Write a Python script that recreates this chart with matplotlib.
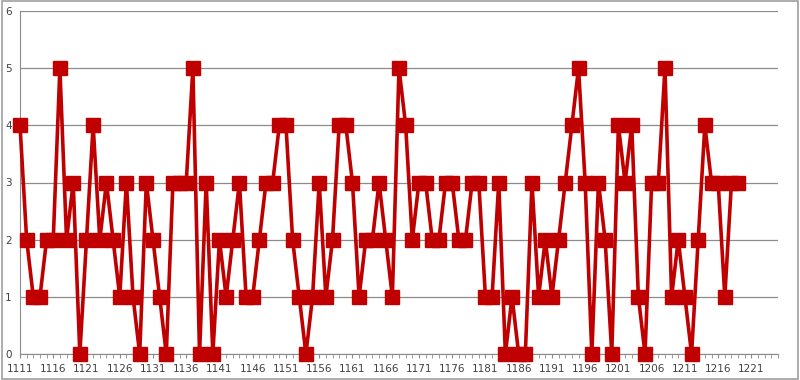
import matplotlib
matplotlib.use('Agg')
import matplotlib.pyplot as plt
from matplotlib.patches import Rectangle

years = list(range(1111, 1220))
values = [4, 2, 1, 1, 2, 2, 5, 2, 3, 0,
          2, 4, 2, 3, 2, 1, 3, 1, 0, 3,
          2, 1, 0, 3, 3, 3, 5, 0, 3, 0,
          2, 1, 2, 3, 1, 1, 2, 3, 3, 4,
          4, 2, 1, 0, 1, 3, 1, 2, 4, 4,
          3, 1, 2, 2, 3, 2, 1, 5, 4, 2,
          3, 3, 2, 2, 3, 3, 2, 2, 3, 3,
          1, 1, 3, 0, 1, 0, 0, 3, 1, 2,
          1, 2, 3, 4, 5, 3, 0, 3, 2, 0,
          4, 3, 4, 1, 0, 3, 3, 5, 1, 2,
          1, 0, 2, 4, 3, 3, 1, 3, 3]
tick_labels = list(range(1111, 1222, 5))

fig = plt.figure(figsize=(8, 3.8), dpi=100)
ax = fig.add_axes([20 / 800, 26 / 380, 758 / 800, 343 / 380])

ax.plot(years, values, color='#C00000', lw=2.6, marker='s', ms=9.5,
        markeredgecolor='#C00000', zorder=3, clip_on=False)

ax.set_xlim(1111, 1225)
ax.set_ylim(0, 6)
ax.set_yticks(range(0, 7))
ax.yaxis.grid(True, color='#8c8c8c', lw=0.9)
ax.set_xticks(tick_labels)
ax.set_xticklabels([str(t) for t in tick_labels])
ax.set_xticks(range(1111, 1226), minor=True)
ax.tick_params(axis='x', which='both', length=3, color='#8c8c8c', labelsize=7.5,
               labelcolor='#404040', pad=4)
ax.tick_params(axis='y', length=0, labelsize=7.5, labelcolor='#404040', pad=6)
for s in ['top', 'right']:
    ax.spines[s].set_visible(False)
for s in ['left', 'bottom']:
    ax.spines[s].set_color('#8c8c8c')
ax.set_axisbelow(True)

fig.patches.append(Rectangle((0.002, 0.003), 0.996, 0.994, transform=fig.transFigure,
                             fill=False, edgecolor='#a0a0a0', lw=1.2))

fig.savefig('out.png', dpi=100)
